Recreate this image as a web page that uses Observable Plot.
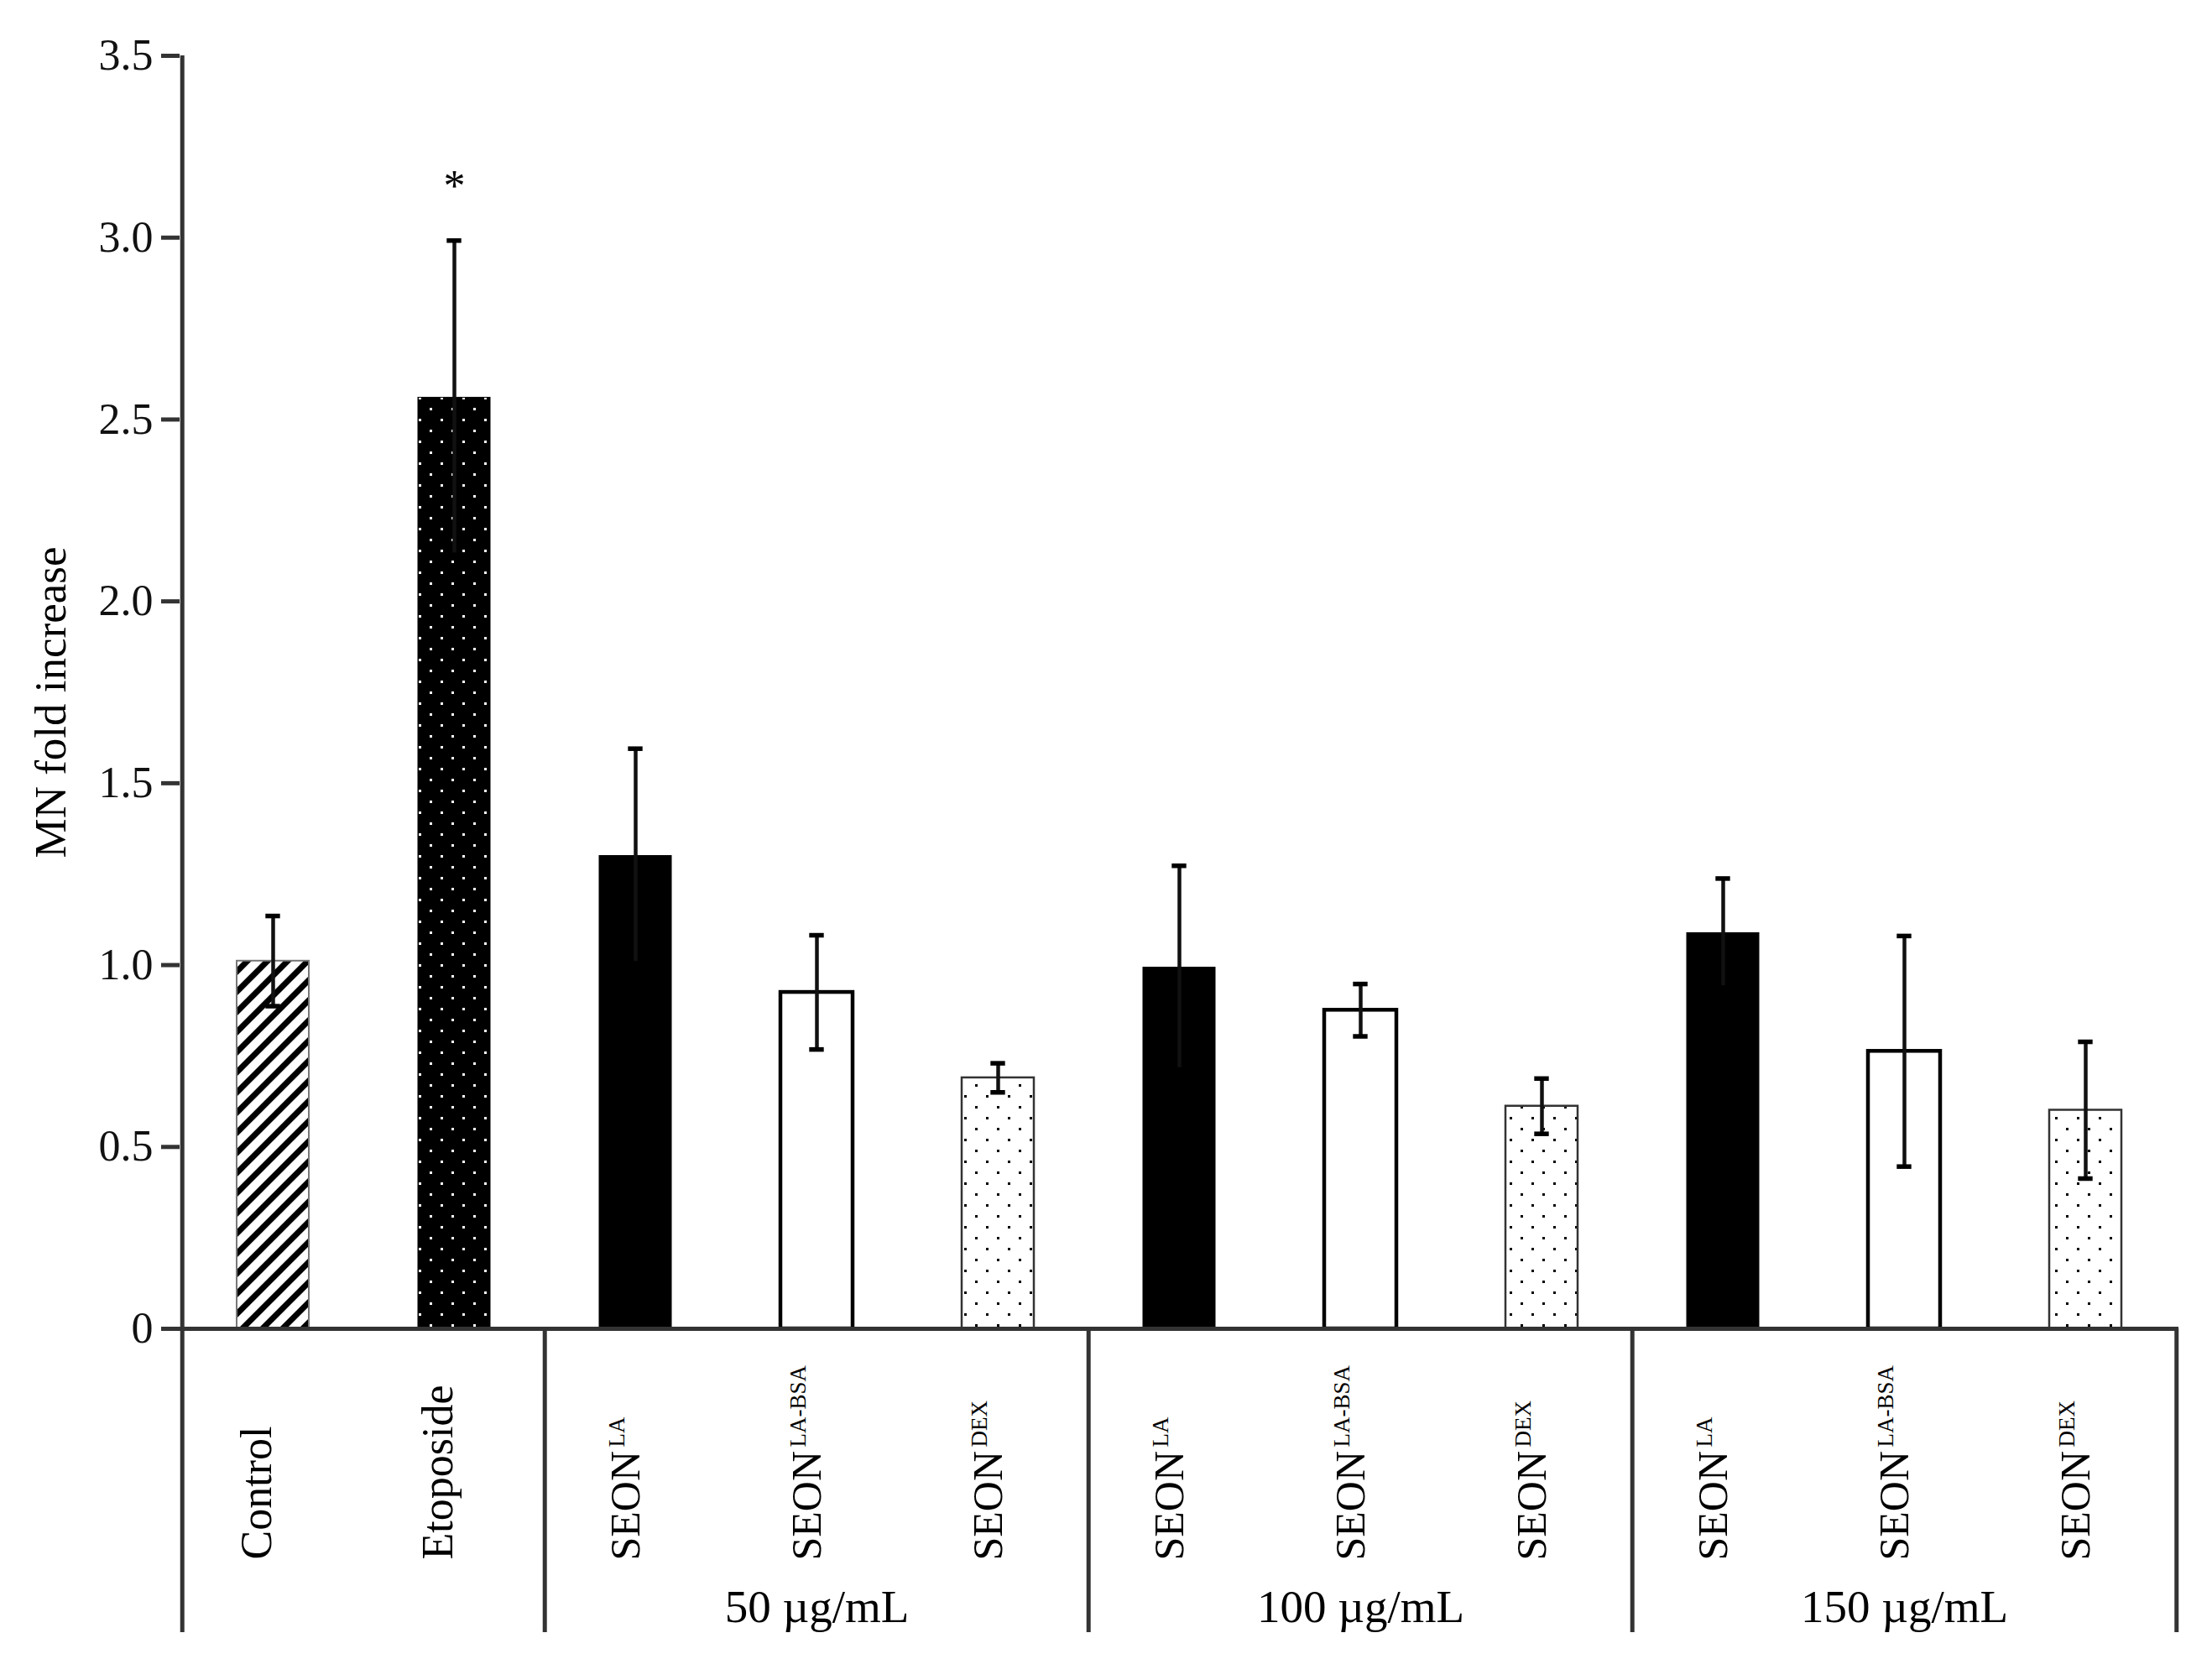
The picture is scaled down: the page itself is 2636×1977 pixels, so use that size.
<!DOCTYPE html>
<html>
<head>
<meta charset="utf-8">
<script src="https://cdn.jsdelivr.net/npm/d3@7"></script>
<script src="https://cdn.jsdelivr.net/npm/@observablehq/plot@0.6"></script>
<style>
  html, body { margin: 0; padding: 0; background: white; }
</style>
</head>
<body>
<div id="chart"></div>
<script>
// ---------- data ----------
const categories = ["Control", "Etoposide",
  "SEON_LA_50", "SEON_LABSA_50", "SEON_DEX_50",
  "SEON_LA_100", "SEON_LABSA_100", "SEON_DEX_100",
  "SEON_LA_150", "SEON_LABSA_150", "SEON_DEX_150"];
const baseLabels = ["Control", "Etoposide",
  "SEON", "SEON", "SEON", "SEON", "SEON", "SEON", "SEON", "SEON", "SEON"];
const superLabels = ["", "",
  "LA", "LA-BSA", "DEX", "LA", "LA-BSA", "DEX", "LA", "LA-BSA", "DEX"];
const means = [1.011, 2.56, 1.30, 0.925, 0.69, 0.993, 0.876, 0.612, 1.088, 0.763, 0.601];
const errors = [0.124, 0.432, 0.295, 0.157, 0.04, 0.28, 0.072, 0.076, 0.15, 0.317, 0.188];
const fills = ["url(#hatch)", "url(#etodots)",
  "black", "white", "url(#dexdots)",
  "black", "white", "url(#dexdots)",
  "black", "white", "url(#dexdots)"];
const strokes = ["#777", "black", "black", "black", "#333", "black", "black", "#333", "black", "black", "#333"];
const strokeWidths = [2, 1, 1, 4.5, 2.5, 1, 4.5, 2.5, 1, 4.5, 2.5];
const groupLabels = ["50 µg/mL", "100 µg/mL", "150 µg/mL"];
const groupCenters = ["SEON_LABSA_50", "SEON_LABSA_100", "SEON_LABSA_150"];
const groupStarts = ["SEON_LA_50", "SEON_LA_100", "SEON_LA_150"];
const yTicks = [0, 0.5, 1, 1.5, 2, 2.5, 3, 3.5];
const yLabel = "MN fold increase";
const significance = [{cat: "Etoposide", mark: "*"}];

// ---------- layout ----------
const W = 2636, H = 1977;
const mL = 214, mR = 40, mT = 66, mB = 394;
const frameBottom = H - mB;
const yMax = 3.5;
const step = (W - mL - mR) / categories.length;
const boxBottomPx = 1945;
const yBottom = -(boxBottomPx - frameBottom) * yMax / (frameBottom - mT);
const capInset = (step * 0.4 - 18) / 2;

const rows = categories.map((id, i) => ({
  id, base: baseLabels[i], sup: superLabels[i], mean: means[i], err: errors[i],
  fill: fills[i], stroke: strokes[i], sw: strokeWidths[i]
}));
const groups = groupLabels.map((label, i) => ({label, center: groupCenters[i]}));
const sigRows = significance.map(s => {
  const r = rows.find(d => d.id === s.cat);
  return {cat: s.cat, mark: s.mark, top: r.mean + r.err};
});

const serif = "Liberation Serif, Times New Roman, serif";

const chart = Plot.plot({
  width: W, height: H,
  marginLeft: mL, marginRight: mR, marginTop: mT, marginBottom: mB,
  style: {fontFamily: serif, background: "white", color: "black"},
  x: {type: "band", domain: categories, paddingInner: 0.6, paddingOuter: 0.3, axis: null},
  y: {domain: [0, yMax], nice: false},
  marks: [
    Plot.barY(rows, {x: "id", y: "mean", fill: "fill", stroke: "stroke", strokeWidth: "sw"}),
    Plot.ruleX(rows, {x: "id", y1: d => d.mean - d.err, y2: d => d.mean + d.err, stroke: "#111", strokeWidth: 4.5}),
    Plot.tickY(rows, {x: "id", y: d => d.mean + d.err, stroke: "black", strokeWidth: 5.5, insetLeft: capInset, insetRight: capInset}),
    Plot.tickY(rows, {x: "id", y: d => d.mean - d.err, stroke: "black", strokeWidth: 5.5, insetLeft: capInset, insetRight: capInset}),
    Plot.ruleY([0], {stroke: "#333", strokeWidth: 5}),
    Plot.ruleX([categories[0]], {dx: -step / 2, y1: yMax, y2: yBottom, stroke: "#333", strokeWidth: 5}),
    Plot.ruleX(groupStarts, {dx: -step / 2, y1: 0, y2: yBottom, stroke: "#333", strokeWidth: 5}),
    Plot.ruleX([categories[categories.length - 1]], {dx: step / 2, y1: 0, y2: yBottom, stroke: "#333", strokeWidth: 5}),
    Plot.axisY({
      ticks: yTicks,
      tickFormat: d => d === 0 ? "0" : d.toFixed(1),
      tickSize: 22, tickPadding: 10, strokeWidth: 5, stroke: "#333",
      fontSize: 52, fontFamily: serif, fill: "#111", label: null
    }),
    Plot.text([yLabel], {text: d => d, frameAnchor: "left", dx: -153, dy: 12, rotate: -90,
      textAnchor: "middle", fontSize: 53, fontFamily: serif, fill: "black"}),
    Plot.text(rows.filter(d => d.sup === ""), {x: "id", text: "base", frameAnchor: "bottom", dy: 275, dx: -3,
      rotate: -90, textAnchor: "start", fontSize: 52, fontFamily: serif, fill: "black"}),
    Plot.text(rows.filter(d => d.sup !== ""), {x: "id", text: "base", frameAnchor: "bottom", dy: 276, dx: 4,
      rotate: -90, textAnchor: "start", fontSize: 50, fontFamily: serif, fill: "black"}),
    Plot.text(rows.filter(d => d.sup !== ""), {x: "id", text: "sup", frameAnchor: "bottom", dy: 276 - 135, dx: -14,
      rotate: -90, textAnchor: "start", fontSize: 27, fontFamily: serif, fill: "black"}),
    Plot.text(groups, {x: "center", text: "label", frameAnchor: "bottom", dy: 349, lineAnchor: "bottom",
      fontSize: 55, fontFamily: serif, fill: "black"}),
    Plot.text(sigRows, {x: "cat", y: "top", text: "mark", lineAnchor: "bottom", dy: -48,
      fontSize: 52, fontFamily: serif, fill: "black"})
  ]
});

// pattern definitions used by the bar fills
d3.select(chart).insert("defs", ":first-child").html(`
  <pattern id="hatch" patternUnits="userSpaceOnUse" width="24" height="24">
    <rect width="24" height="24" fill="white"/>
    <path d="M-6,6 L6,-6 M0,24 L24,0 M18,30 L30,18" stroke="black" stroke-width="7"/>
  </pattern>
  <pattern id="etodots" patternUnits="userSpaceOnUse" width="26" height="26">
    <rect width="26" height="26" fill="black"/>
    <rect x="5" y="5" width="3" height="3" fill="white"/>
    <rect x="18" y="18" width="3" height="3" fill="white"/>
  </pattern>
  <pattern id="dexdots" patternUnits="userSpaceOnUse" width="26" height="26">
    <rect width="26" height="26" fill="white"/>
    <rect x="5" y="5" width="3" height="3" fill="black"/>
    <rect x="18" y="18" width="3" height="3" fill="black"/>
  </pattern>
`);

document.getElementById("chart").appendChild(chart);
</script>
</body>
</html>
